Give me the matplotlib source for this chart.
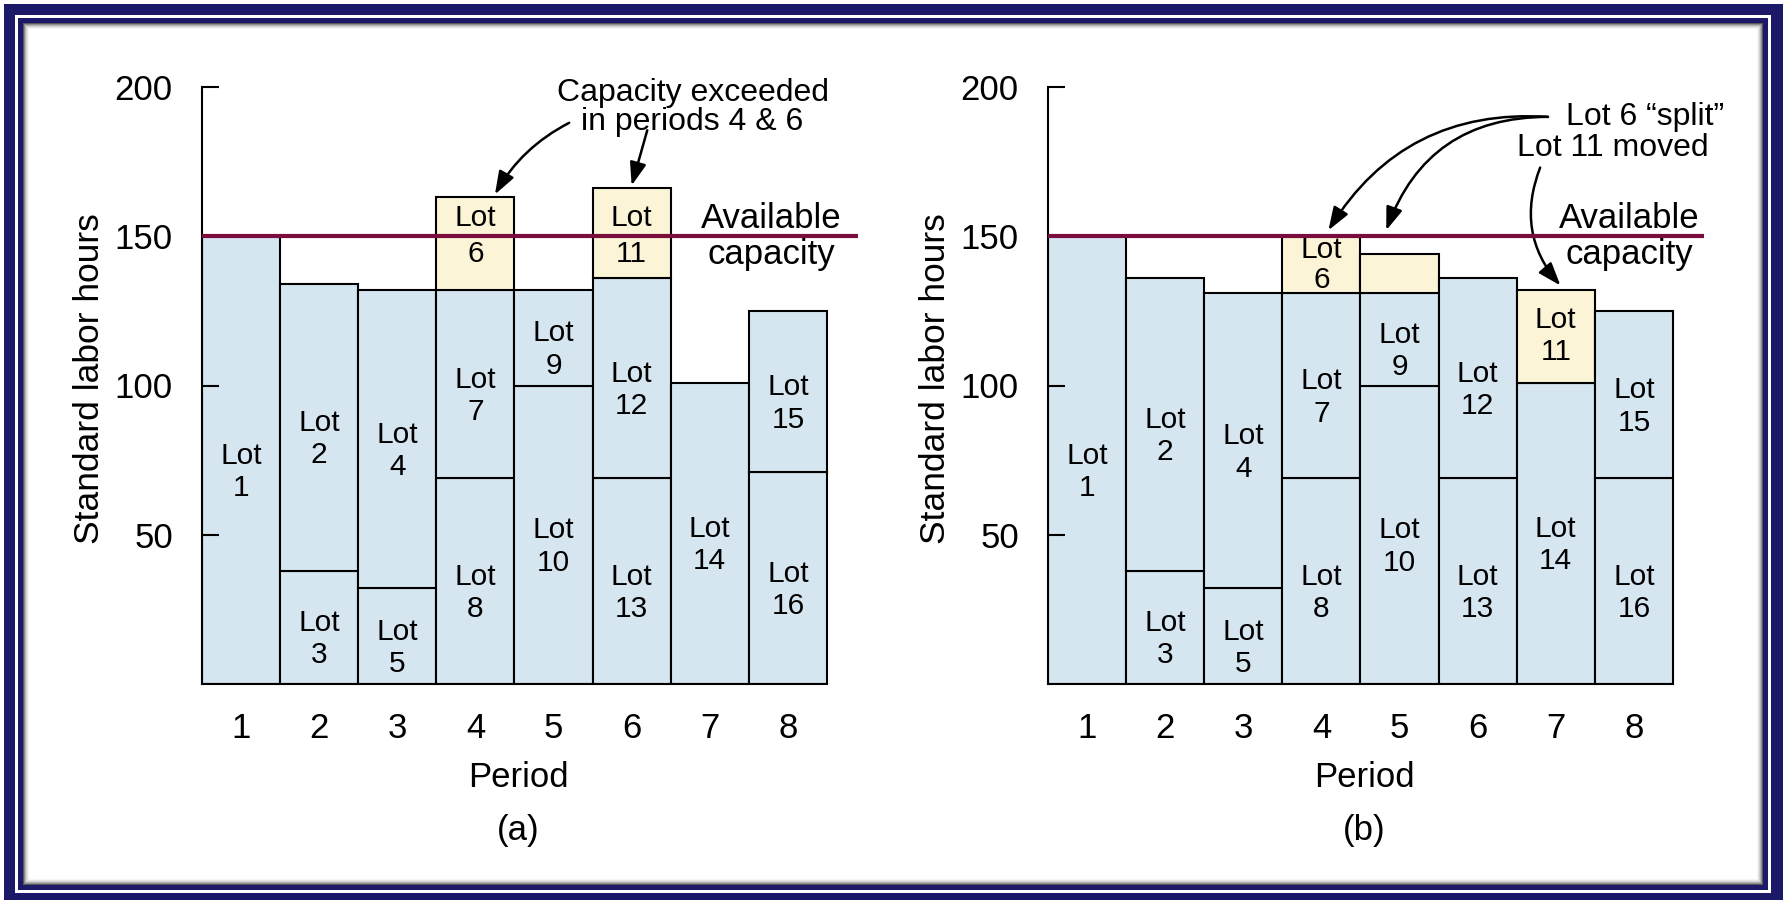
import matplotlib
matplotlib.use("Agg")
import matplotlib.pyplot as plt
from matplotlib.patches import Rectangle

plt.rcParams['font.family'] = ['Liberation Sans', 'DejaVu Sans']

# Datos
periods = [1, 2, 3, 4, 5, 6, 7, 8]
capacity = 150
tick_vals = [50, 100, 150, 200]

# (a) carga original: lotes por periodo (de abajo hacia arriba) y horas de cada lote
lots_a = [[1], [3, 2], [5, 4], [8, 7, 6], [10, 9], [13, 12, 11], [14], [16, 15]]
hours_a = [[150], [38, 96], [32, 100], [69, 63, 31], [100, 32], [69, 67, 30], [101], [71, 54]]

# (b) carga nivelada: lote 6 dividido entre 4 y 5, lote 11 movido al periodo 7
lots_b = [[1], [3, 2], [5, 4], [8, 7, 6], [10, 9, 6], [13, 12], [14, 11], [16, 15]]
hours_b = [[150], [38, 98], [32, 99], [69, 62, 19], [100, 31, 13], [69, 67], [101, 31], [69, 56]]

over_lots = [6, 11]       # lotes que exceden la capacidad (amarillo)
unlabeled_b = [(5, 6)]    # la parte dividida del lote 6 no lleva etiqueta

blue = '#d6e6f0'
yellow = '#fcf4d6'
maroon = '#7a0c3e'
navy = '#1c1a68'

W, H = 1785, 901
fig = plt.figure(figsize=(W / 100, H / 100), dpi=100)

# Marco de fondo (en pixeles)
bg = fig.add_axes([0, 0, 1, 1], zorder=-5)
bg.set_xlim(0, W)
bg.set_ylim(H, 0)
bg.axis('off')
def box(x0, y0, x1, y1, c):
    bg.add_patch(Rectangle((x0, y0), x1 - x0, y1 - y0, facecolor=c, edgecolor='none'))
box(0, 0, W, H, 'white')
box(4, 4, 1783, 900, navy)
box(15, 15, 1771, 893, 'white')
box(18, 18, 1768, 890, navy)
for i, g in enumerate([0.35, 0.55, 0.7, 0.82, 0.9, 0.96]):
    box(23 + i, 23 + i, 1763 - i, 885 - i, str(g))
box(29, 29, 1757, 879, 'white')


def draw_panel(ax, lots, hours, unlabeled, tag):
    for p, ls, hs in zip(periods, lots, hours):
        base = 0
        for lot, h in zip(ls, hs):
            over = lot in over_lots
            ax.bar(p, h, bottom=base, width=1.0, color=yellow if over else blue,
                   edgecolor='black', linewidth=1.5, zorder=2)
            if (p, lot) not in unlabeled:
                if base < capacity < base + h:
                    # el lote que cruza la linea: texto centrado en la capacidad
                    ty, ls_ = capacity, 1.38
                elif over:
                    ty, ls_ = base + h / 2, 1.1 if h < 25 else 1.2
                else:
                    ty, ls_ = base + h / 2 - 4, 1.2
                ax.text(p, ty, 'Lot\n%d' % lot, ha='center', va='center',
                        fontsize=21.5, linespacing=ls_, zorder=3)
            base += h
    ax.plot([0.5, 8.9], [capacity, capacity], color=maroon, lw=3, zorder=4,
            clip_on=False, solid_capstyle='butt')
    ax.set_xlim(0.5, 9.0)
    ax.set_ylim(0, 200)
    ax.set_axisbelow(False)
    for s in ['top', 'right']:
        ax.spines[s].set_visible(False)
    ax.spines['bottom'].set_bounds(0.5, 8.5)
    ax.spines['left'].set_bounds(0, 200)
    ax.spines['left'].set_linewidth(1.5)
    ax.spines['bottom'].set_linewidth(1.5)
    ax.set_yticks(tick_vals)
    ax.set_xticks(periods)
    ax.tick_params(axis='y', direction='in', length=12, width=1.5, pad=21, labelsize=25)
    ax.tick_params(axis='x', length=0, pad=20, labelsize=25)
    ax.set_facecolor('none')
    ax.text(4.55, -0.156, 'Period', transform=ax.get_xaxis_transform(),
            ha='center', va='center', fontsize=25)
    ax.text(4.55, -0.2446, tag, transform=ax.get_xaxis_transform(),
            ha='center', va='center', fontsize=25)
    ax.text(-0.1687, 0.512, 'Standard labor hours', transform=ax.transAxes, rotation=90,
            ha='center', va='center', fontsize=25.5)


ax_w = 664 / W
ax_h = 597 / H
ax_b = (H - 684) / H
ax1 = fig.add_axes([202 / W, ax_b, ax_w, ax_h])
ax2 = fig.add_axes([1048 / W, ax_b, ax_w, ax_h])

draw_panel(ax1, lots_a, hours_a, [], '(a)')
draw_panel(ax2, lots_b, hours_b, unlabeled_b, '(b)')

arrow = dict(arrowstyle='-|>,head_length=0.7,head_width=0.25', color='black', lw=1.8,
             mutation_scale=20, shrinkA=0, shrinkB=0)

# Anotaciones panel (a)
ax1.text(6.78, 193, 'Capacity exceeded\nin periods 4 & 6', ha='center', va='center',
         fontsize=23, linespacing=0.95)
ax1.annotate('', xy=(4.25, 164), xytext=(5.2, 188),
             arrowprops=dict(arrow, connectionstyle='arc3,rad=0.15'))
ax1.annotate('', xy=(6.0, 167), xytext=(6.2, 185.5),
             arrowprops=dict(arrow, connectionstyle='arc3,rad=0.0'))
ax1.text(7.79, 150, 'Available\ncapacity', ha='center', va='center', fontsize=25,
         linespacing=1.1, zorder=5)

# Anotaciones panel (b)
ax2.text(8.14, 190, 'Lot 6 \u201csplit\u201d', ha='center', va='center', fontsize=23)
ax2.text(7.73, 179.4, 'Lot 11 moved', ha='center', va='center', fontsize=23)
ax2.annotate('', xy=(4.09, 152), xytext=(6.9, 190),
             arrowprops=dict(arrow, connectionstyle='arc3,rad=0.3'))
ax2.annotate('', xy=(4.83, 152), xytext=(6.9, 190),
             arrowprops=dict(arrow, connectionstyle='arc3,rad=0.35'))
ax2.annotate('', xy=(7.06, 133.5), xytext=(6.8, 173),
             arrowprops=dict(arrow, connectionstyle='arc3,rad=0.3'))
ax2.text(7.94, 150, 'Available\ncapacity', ha='center', va='center', fontsize=25,
         linespacing=1.1, zorder=5)

fig.savefig('out.png', dpi=100)
